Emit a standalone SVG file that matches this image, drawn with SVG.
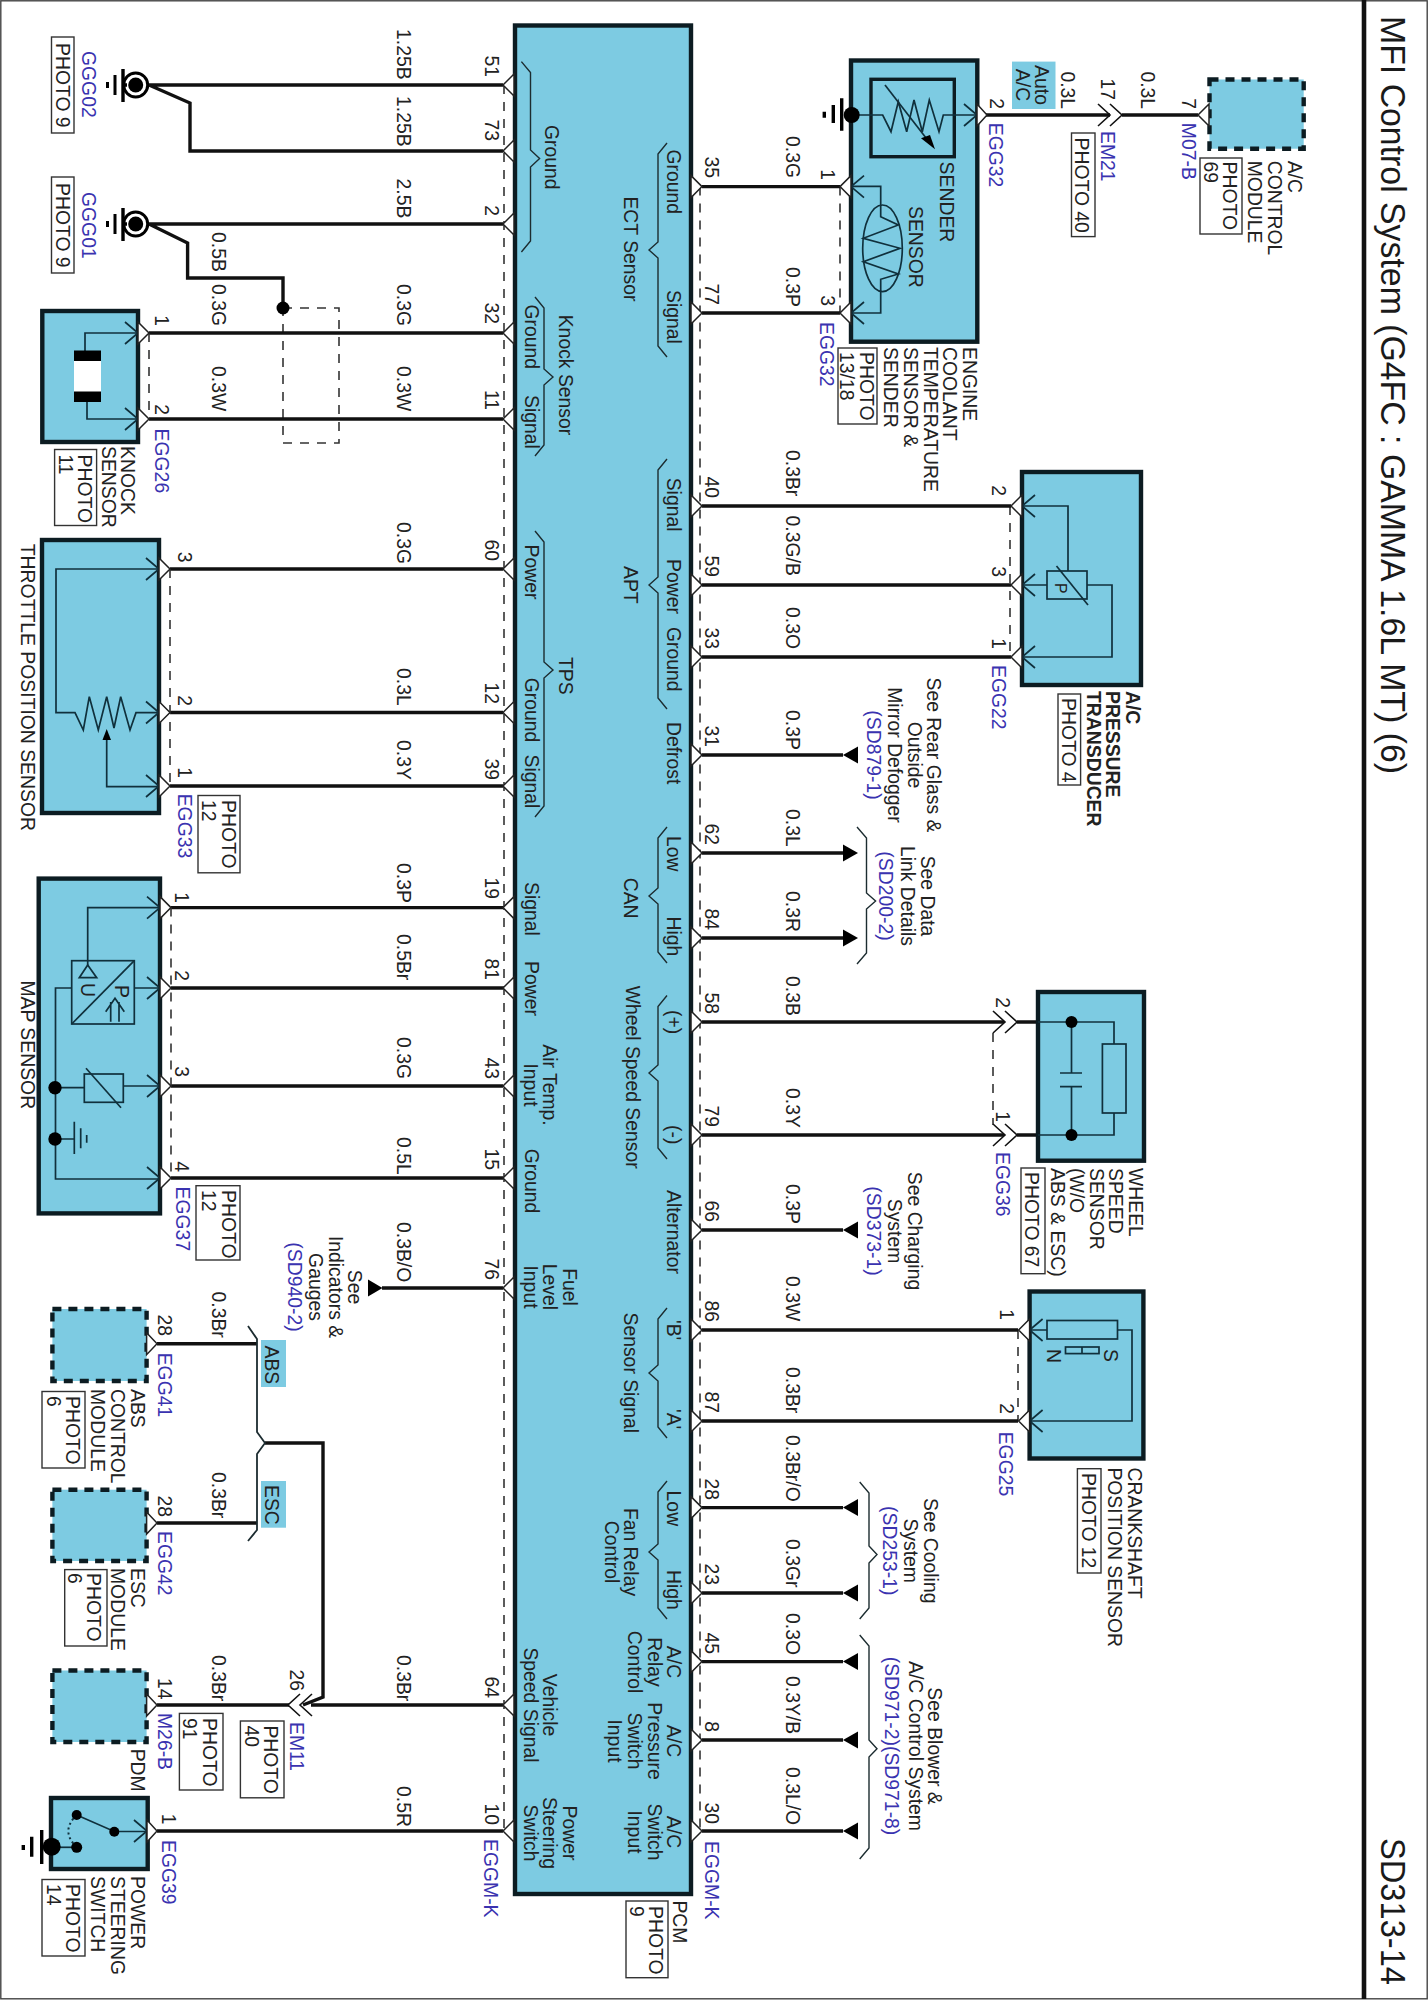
<svg xmlns="http://www.w3.org/2000/svg" width="1428" height="2000" viewBox="0 0 1428 2000">
<style>
text{font-family:"Liberation Sans",Arial,sans-serif;font-size:20.6px;fill:#222}
.b{fill:#3a33b0}
.m{text-anchor:middle}
.e{text-anchor:end}
.bold{font-weight:bold}
.title{font-size:35px;fill:#1a1a1a}
.w{fill:none;stroke:#111;stroke-width:3.4;stroke-linejoin:miter}
.d{fill:none;stroke:#333;stroke-width:1.6;stroke-dasharray:9 8}
.box{fill:#7dcbe2;stroke:#0c1c22;stroke-width:4.4}
.dbox{fill:#7dcbe2;stroke:#0c1c22;stroke-width:4.4;stroke-dasharray:9 7}
.lab{fill:#7dcbe2;stroke:none}
.ph{fill:#fff;stroke:#333;stroke-width:1.4}
.i{fill:none;stroke:#10303c;stroke-width:1.7}
.br{fill:none;stroke:#1c2c30;stroke-width:1.4}
.k{fill:#000;stroke:none}
.g{fill:none;stroke:#000;stroke-width:3.4}
.pin{fill:#fff;stroke:#222;stroke-width:1.5;stroke-linejoin:miter}
.c{fill:none;stroke:#111;stroke-width:1.6}
</style>
<defs>
<path id="ptL" class="pin" d="M11,-11L0,0L11,11Z"/>
<path id="ptR" class="pin" d="M-11,-11L0,0L-11,11Z"/>
<path id="arL" class="i" d="M13,-11L0,0L13,11"/>
<path id="arR" class="i" d="M-13,-11L0,0L-13,11"/>
<path id="conL" class="c" d="M12,-11L0,0L12,11M24,-11L12,0L24,11"/>
<path id="conR" class="c" d="M-12,-11L0,0L-12,11M-24,-11L-12,0L-24,11"/>
<path id="triL" class="k" d="M0,0L15,-8.5L15,8.5Z"/>
<path id="triR" class="k" d="M0,0L-15,-8.5L-15,8.5Z"/>
</defs>
<rect x="0.8" y="0.8" width="1426.4" height="1998" fill="#fff" stroke="#444" stroke-width="1.4"/>
<line x1="1364" y1="0" x2="1364" y2="1999" stroke="#111" stroke-width="4.6"/>
<text class="title" transform="matrix(0 1 -1 0 1381 16)" textLength="758" lengthAdjust="spacingAndGlyphs">MFI Control System (G4FC : GAMMA 1.6L MT) (6)</text>
<text class="title" transform="matrix(0 1 -1 0 1381 1838)" textLength="147" lengthAdjust="spacingAndGlyphs">SD313-14</text>

<g id="connectors">
<path class="w" d="M149,85H503M149,85L190,103V151H503"/>
<path class="w" d="M149,224H503M149,224L187.6,243V278H283V308"/>
<path class="d" d="M283,308H339V443H283Z"/>
<path class="w" d="M149,333H503M149,419H503M170,569H503M170,712.5H503M170,786H503M171,907.6H503M171,988H503M171,1086H503M171,1178H503M382,1288H503M311,1705H503M157,1831H503"/>
<path class="d" d="M504,85V1831M700,186.6V1831M149,333V419M170,569V786M171,907.6V1178M840,186.6V313M1010,506V657M993,1033V1125M1018,1330V1421"/>
<path class="w" d="M702,186.6H840M702,313H840M702,506H1011M702,585H1011M702,657H1011M702,755H843M702,853H843M702,938H843M702,1022H1004M1017,1022H1038M702,1135H1004M1017,1135H1038M702,1230H843M702,1330H1018M702,1421H1018M702,1507.6H843M702,1593H843M702,1661.6H843M702,1740H843M702,1831H843"/>
<path class="w" d="M986,115H1110M1122,115H1198"/>
<path class="w" d="M157,1343.7H257M157,1523H257M157,1705H289M265,1443H323V1697L303,1705"/>
<path class="br" d="M248,1326L257,1339V1432L265,1443L257,1454V1530L248,1541" style="stroke-width:1.8"/>
<use href="#triL" x="843" y="755"/>
<use href="#triR" x="858" y="853"/>
<use href="#triR" x="858" y="938"/>
<use href="#triL" x="843" y="1230"/>
<use href="#triL" x="843" y="1507.6"/>
<use href="#triL" x="843" y="1593"/>
<use href="#triL" x="843" y="1661.6"/>
<use href="#triL" x="843" y="1740"/>
<use href="#triL" x="843" y="1831"/>
<path class="k" d="M382.5,1288L368,1279.5V1296.5Z"/>
<circle class="k" cx="283" cy="308" r="6.5"/>
<use href="#conR" x="1122" y="115"/>
<use href="#conR" x="1017" y="1022"/>
<use href="#conR" x="1017" y="1135"/>
<use href="#conL" x="288" y="1705"/>
<path class="br" d="M857,827L866.5,838V893L875.6,901L866.5,909V953L857,964"/>
<path class="br" d="M859.7,1482L869,1493V1546L877,1554.5L869,1563V1608L859.7,1619"/>
<path class="br" d="M859.7,1635L869,1646V1740L877,1748.7L869,1757V1848L859.7,1859"/>
<g id="wire-labels">
<text transform="matrix(0 .94 -1 0 397 29)">1.25B</text>
<text transform="matrix(0 .94 -1 0 397 96)">1.25B</text>
<text transform="matrix(0 .94 -1 0 397 178.6)">2.5B</text>
<text transform="matrix(0 .94 -1 0 397 284)">0.3G</text>
<text transform="matrix(0 .94 -1 0 397 366)">0.3W</text>
<text transform="matrix(0 .94 -1 0 397 522)">0.3G</text>
<text transform="matrix(0 .94 -1 0 397 668)">0.3L</text>
<text transform="matrix(0 .94 -1 0 397 740)">0.3Y</text>
<text transform="matrix(0 .94 -1 0 397 863)">0.3P</text>
<text transform="matrix(0 .94 -1 0 397 934)">0.5Br</text>
<text transform="matrix(0 .94 -1 0 397 1037)">0.3G</text>
<text transform="matrix(0 .94 -1 0 397 1137)">0.5L</text>
<text transform="matrix(0 .94 -1 0 397 1222)">0.3B/O</text>
<text transform="matrix(0 .94 -1 0 397 1655)">0.3Br</text>
<text transform="matrix(0 .94 -1 0 397 1786)">0.5R</text>
<text transform="matrix(0 .94 -1 0 212 232)">0.5B</text>
<text transform="matrix(0 .94 -1 0 212 284)">0.3G</text>
<text transform="matrix(0 .94 -1 0 212 366)">0.3W</text>
<text transform="matrix(0 .94 -1 0 212 1291.5)">0.3Br</text>
<text transform="matrix(0 .94 -1 0 212 1472)">0.3Br</text>
<text transform="matrix(0 .94 -1 0 212 1655)">0.3Br</text>
<text transform="matrix(0 .94 -1 0 785.5 136)">0.3G</text>
<text transform="matrix(0 .94 -1 0 785.5 267)">0.3P</text>
<text transform="matrix(0 .94 -1 0 785.5 450)">0.3Br</text>
<text transform="matrix(0 .94 -1 0 785.5 515.6)">0.3G/B</text>
<text transform="matrix(0 .94 -1 0 785.5 607)">0.3O</text>
<text transform="matrix(0 .94 -1 0 785.5 710)">0.3P</text>
<text transform="matrix(0 .94 -1 0 785.5 809)">0.3L</text>
<text transform="matrix(0 .94 -1 0 785.5 891)">0.3R</text>
<text transform="matrix(0 .94 -1 0 785.5 976)">0.3B</text>
<text transform="matrix(0 .94 -1 0 785.5 1088)">0.3Y</text>
<text transform="matrix(0 .94 -1 0 785.5 1184)">0.3P</text>
<text transform="matrix(0 .94 -1 0 785.5 1276)">0.3W</text>
<text transform="matrix(0 .94 -1 0 785.5 1367)">0.3Br</text>
<text transform="matrix(0 .94 -1 0 785.5 1435)">0.3Br/O</text>
<text transform="matrix(0 .94 -1 0 785.5 1539)">0.3Gr</text>
<text transform="matrix(0 .94 -1 0 785.5 1613)">0.3O</text>
<text transform="matrix(0 .94 -1 0 785.5 1676)">0.3Y/B</text>
<text transform="matrix(0 .94 -1 0 785.5 1767)">0.3L/O</text>
<text transform="matrix(0 .94 -1 0 1061 71.4)">0.3L</text>
<text transform="matrix(0 .94 -1 0 1141 71.4)">0.3L</text>
<text class="e" transform="matrix(0 .94 -1 0 1101 100)">17</text>
<text class="b" transform="matrix(0 .94 -1 0 1101 131)">EM21</text>
<text class="e" transform="matrix(0 .94 -1 0 290 1691)">26</text>
<text class="b" transform="matrix(0 .94 -1 0 290 1722)">EM11</text>
</g>
<g id="cross-references">
<text class="m" transform="matrix(0 .94 -1 0 927 755)">See Rear Glass &amp;<tspan x="0" dy="19.5">Outside</tspan><tspan x="0" dy="19.5">Mirror Defogger</tspan><tspan class="b" x="0" dy="21">(SD879-1)</tspan></text>
<text class="m" transform="matrix(0 .94 -1 0 921 896)">See Data<tspan x="0" dy="20">Link Details</tspan><tspan class="b" x="0" dy="22">(SD200-2)</tspan></text>
<text class="m" transform="matrix(0 .94 -1 0 907.5 1231)">See Charging<tspan x="0" dy="19.5">System</tspan><tspan class="b" x="0" dy="21">(SD373-1)</tspan></text>
<text class="m" transform="matrix(0 .94 -1 0 923.5 1550.7)">See Cooling<tspan x="0" dy="20">System</tspan><tspan class="b" x="0" dy="20.5">(SD253-1)</tspan></text>
<text class="m" transform="matrix(0 .94 -1 0 928 1746)">See Blower &amp;<tspan x="0" dy="19">A/C Control System</tspan><tspan class="b" x="0" dy="24">(SD971-2)(SD971-8)</tspan></text>
<text class="m" transform="matrix(0 .94 -1 0 348 1287)">See<tspan x="0" dy="19.5">Indicators &amp;</tspan><tspan x="0" dy="20">Gauges</tspan><tspan class="b" x="0" dy="21">(SD940-2)</tspan></text>
</g>
</g>

<g id="pcm">
<rect class="box" x="515" y="25.5" width="176" height="1868.5"/>
<path class="br" d="M521.4,61.6L530.5,72.6V150L539.6,158.5L530.5,167V241L521.4,252"/>
<path class="br" d="M667,143L658,154V242L649,250L658,258V346L667,357"/>
<path class="br" d="M535,297L544,308V369L553,377L544,385V445L535,456"/>
<path class="br" d="M667,459L658,470V577L649,585L658,593V698L667,709"/>
<path class="br" d="M535,531L544,542V662L553,670L544,678V806L535,817"/>
<path class="br" d="M667,827L658,838V888L649,896L658,904V952L667,963"/>
<path class="br" d="M667,995.5L658,1006.5V1065L649,1073L658,1081V1148L667,1159"/>
<path class="br" d="M667,1308L658,1319V1365L649,1373L658,1381V1427L667,1438"/>
<path class="br" d="M667,1481L658,1492V1544L649,1552L658,1560V1608L667,1619"/>
<text transform="matrix(0 .94 -1 0 545 125)">Ground</text>
<text transform="matrix(0 .94 -1 0 667 149.5)">Ground</text>
<text transform="matrix(0 .94 -1 0 667 290)">Signal</text>
<text transform="matrix(0 .94 -1 0 624 196.4)">ECT Sensor</text>
<text transform="matrix(0 .94 -1 0 524.6 304.5)">Ground</text>
<text transform="matrix(0 .94 -1 0 524.6 395)">Signal</text>
<text transform="matrix(0 .94 -1 0 559 314.7)">Knock Sensor</text>
<text transform="matrix(0 .94 -1 0 667 477.7)">Signal</text>
<text transform="matrix(0 .94 -1 0 667 559)">Power</text>
<text transform="matrix(0 .94 -1 0 667 627)">Ground</text>
<text transform="matrix(0 .94 -1 0 624 566)">APT</text>
<text transform="matrix(0 .94 -1 0 524.6 544.6)">Power</text>
<text transform="matrix(0 .94 -1 0 524.6 677.7)">Ground</text>
<text transform="matrix(0 .94 -1 0 524.6 754.5)">Signal</text>
<text transform="matrix(0 .94 -1 0 559 657)">TPS</text>
<text transform="matrix(0 .94 -1 0 667 722)">Defrost</text>
<text transform="matrix(0 .94 -1 0 667 836)">Low</text>
<text transform="matrix(0 .94 -1 0 667 916.5)">High</text>
<text transform="matrix(0 .94 -1 0 624 877.7)">CAN</text>
<text transform="matrix(0 .94 -1 0 667 1010)">(+)</text>
<text transform="matrix(0 .94 -1 0 667 1125)">(-)</text>
<text transform="matrix(0 .94 -1 0 626 985.7)">Wheel Speed Sensor</text>
<text transform="matrix(0 .94 -1 0 667 1190)">Alternator</text>
<text transform="matrix(0 .94 -1 0 667 1320)">'B'</text>
<text transform="matrix(0 .94 -1 0 667 1409)">'A'</text>
<text transform="matrix(0 .94 -1 0 624 1312.5)">Sensor Signal</text>
<text transform="matrix(0 .94 -1 0 667 1490.6)">Low</text>
<text transform="matrix(0 .94 -1 0 667 1570)">High</text>
<text class="m" transform="matrix(0 .94 -1 0 624 1552)">Fan Relay<tspan x="0" dy="19.5">Control</tspan></text>
<text class="m" transform="matrix(0 .94 -1 0 667 1662)">A/C<tspan x="0" dy="19.5">Relay</tspan><tspan x="0" dy="20">Control</tspan></text>
<text class="m" transform="matrix(0 .94 -1 0 667 1741)">A/C<tspan x="0" dy="19.5">Pressure</tspan><tspan x="0" dy="20">Switch</tspan><tspan x="0" dy="19.5">Input</tspan></text>
<text class="m" transform="matrix(0 .94 -1 0 667 1832)">A/C<tspan x="0" dy="19.5">Switch</tspan><tspan x="0" dy="20">Input</tspan></text>
<text transform="matrix(0 .94 -1 0 524.6 882)">Signal</text>
<text transform="matrix(0 .94 -1 0 524.6 961)">Power</text>
<text class="m" transform="matrix(0 .94 -1 0 543 1085)">Air Temp.<tspan x="0" dy="19.3">Input</tspan></text>
<text transform="matrix(0 .94 -1 0 524.6 1148.7)">Ground</text>
<text class="m" transform="matrix(0 .94 -1 0 563 1287)">Fuel<tspan x="0" dy="20">Level</tspan><tspan x="0" dy="19.3">Input</tspan></text>
<text class="m" transform="matrix(0 .94 -1 0 543 1705)">Vehicle<tspan x="0" dy="19.3">Speed Signal</tspan></text>
<text class="m" transform="matrix(0 .94 -1 0 563 1833)">Power<tspan x="0" dy="20">Steering</tspan><tspan x="0" dy="19.3">Switch</tspan></text>
<use href="#ptL" x="503" y="85"/><use href="#ptL" x="503" y="151"/><use href="#ptL" x="503" y="224"/><use href="#ptL" x="503" y="333"/><use href="#ptL" x="503" y="419"/><use href="#ptL" x="503" y="569"/><use href="#ptL" x="503" y="712.5"/><use href="#ptL" x="503" y="786"/><use href="#ptL" x="503" y="907.6"/><use href="#ptL" x="503" y="988"/><use href="#ptL" x="503" y="1086"/><use href="#ptL" x="503" y="1178"/><use href="#ptL" x="503" y="1288"/><use href="#ptL" x="503" y="1705"/><use href="#ptL" x="503" y="1831"/>
<use href="#ptR" x="702" y="186.6"/><use href="#ptR" x="702" y="313"/><use href="#ptR" x="702" y="506"/><use href="#ptR" x="702" y="585"/><use href="#ptR" x="702" y="657"/><use href="#ptR" x="702" y="755"/><use href="#ptR" x="702" y="853"/><use href="#ptR" x="702" y="938"/><use href="#ptR" x="702" y="1022"/><use href="#ptR" x="702" y="1135"/><use href="#ptR" x="702" y="1230"/><use href="#ptR" x="702" y="1330"/><use href="#ptR" x="702" y="1421"/><use href="#ptR" x="702" y="1507.6"/><use href="#ptR" x="702" y="1593"/><use href="#ptR" x="702" y="1661.6"/><use href="#ptR" x="702" y="1740"/><use href="#ptR" x="702" y="1831"/>
<text class="e" transform="matrix(0 .94 -1 0 485 77)">51</text><text class="e" transform="matrix(0 .94 -1 0 485 141)">73</text><text class="e" transform="matrix(0 .94 -1 0 485 216)">2</text><text class="e" transform="matrix(0 .94 -1 0 485 324)">32</text><text class="e" transform="matrix(0 .94 -1 0 485 410)">11</text><text class="e" transform="matrix(0 .94 -1 0 485 561)">60</text><text class="e" transform="matrix(0 .94 -1 0 485 704)">12</text><text class="e" transform="matrix(0 .94 -1 0 485 780)">39</text><text class="e" transform="matrix(0 .94 -1 0 485 899)">19</text><text class="e" transform="matrix(0 .94 -1 0 485 980)">81</text><text class="e" transform="matrix(0 .94 -1 0 485 1079)">43</text><text class="e" transform="matrix(0 .94 -1 0 485 1170)">15</text><text class="e" transform="matrix(0 .94 -1 0 485 1280)">76</text><text class="e" transform="matrix(0 .94 -1 0 485 1698)">64</text><text class="e" transform="matrix(0 .94 -1 0 485 1825)">10</text>
<text class="e" transform="matrix(0 .94 -1 0 705 178)">35</text><text class="e" transform="matrix(0 .94 -1 0 705 305)">77</text><text class="e" transform="matrix(0 .94 -1 0 705 498)">40</text><text class="e" transform="matrix(0 .94 -1 0 705 577)">59</text><text class="e" transform="matrix(0 .94 -1 0 705 649)">33</text><text class="e" transform="matrix(0 .94 -1 0 705 747)">31</text><text class="e" transform="matrix(0 .94 -1 0 705 845)">62</text><text class="e" transform="matrix(0 .94 -1 0 705 930)">84</text><text class="e" transform="matrix(0 .94 -1 0 705 1014)">58</text><text class="e" transform="matrix(0 .94 -1 0 705 1127)">79</text><text class="e" transform="matrix(0 .94 -1 0 705 1222)">66</text><text class="e" transform="matrix(0 .94 -1 0 705 1322)">86</text><text class="e" transform="matrix(0 .94 -1 0 705 1413)">87</text><text class="e" transform="matrix(0 .94 -1 0 705 1500)">28</text><text class="e" transform="matrix(0 .94 -1 0 705 1585)">23</text><text class="e" transform="matrix(0 .94 -1 0 705 1654)">45</text><text class="e" transform="matrix(0 .94 -1 0 705 1732)">8</text><text class="e" transform="matrix(0 .94 -1 0 705 1824)">30</text>
<text class="b" transform="matrix(0 .94 -1 0 484 1839)">EGGM-K</text>
<text class="b" transform="matrix(0 .94 -1 0 705 1841)">EGGM-K</text>
<text transform="matrix(0 .94 -1 0 673 1900.4)">PCM</text>
<rect class="ph" x="626" y="1901" width="42" height="76.7"/>
<text transform="matrix(0 .94 -1 0 649 1906)">PHOTO<tspan x="0" dy="19.5">9</tspan></text>
</g>

<g id="ggg02">
<circle cx="135.7" cy="85" r="12" fill="#fff" stroke="#000" stroke-width="3"/>
<circle class="k" cx="135.7" cy="85" r="7.5"/>
<path class="g" d="M123,85H127M123,69V102"/>
<path class="g" d="M115,75V95M107.5,82V88" style="stroke-width:3"/>
<text class="b" transform="matrix(0 .94 -1 0 82 51)">GGG02</text>
<rect class="ph" x="51.5" y="37" width="22.5" height="96"/>
<text transform="matrix(0 .94 -1 0 56 43)">PHOTO 9</text>
</g>
<g id="ggg01">
<circle cx="135.7" cy="224" r="12" fill="#fff" stroke="#000" stroke-width="3"/>
<circle class="k" cx="135.7" cy="224" r="7.5"/>
<path class="g" d="M123,224H127M123,208V241"/>
<path class="g" d="M115,214V234M107.5,221V227" style="stroke-width:3"/>
<text class="b" transform="matrix(0 .94 -1 0 82 192)">GGG01</text>
<rect class="ph" x="51.5" y="177" width="22.5" height="96"/>
<text transform="matrix(0 .94 -1 0 56 183)">PHOTO 9</text>
</g>

<g id="knock-sensor">
<rect class="box" x="42.3" y="311" width="95.7" height="131"/>
<path class="i" d="M138,333H85V352M87,400V419H138"/>
<rect x="74" y="360" width="27" height="32" fill="#fff"/>
<rect class="k" x="74" y="350.5" width="27" height="10.5"/><rect class="k" x="74" y="391.5" width="27" height="10.5"/>
<use href="#arR" x="138" y="333"/><use href="#arR" x="138" y="419"/>
<path class="pin" d="M138,322L149,333L138,344Z"/><path class="pin" d="M138,408L149,419L138,430Z"/>
<text class="e" transform="matrix(0 .94 -1 0 155 326)">1</text><text class="e" transform="matrix(0 .94 -1 0 155 415)">2</text>
<text class="b" transform="matrix(0 .94 -1 0 155 428.6)">EGG26</text>
<text transform="matrix(0 .94 -1 0 120.7 446)">KNOCK<tspan x="0" dy="18.5">SENSOR</tspan></text>
<rect class="ph" x="54.6" y="449.5" width="42" height="76"/>
<text transform="matrix(0 .94 -1 0 78 454.5)">PHOTO<tspan x="0" dy="19">11</tspan></text>
</g>

<g id="throttle-position-sensor">
<rect class="box" x="42" y="540" width="117" height="273"/>
<path class="i" d="M159,569H56V712.7H75L83.3,730L89.3,696.7L98.3,730L106.7,696.7L114,728L120.7,696.7L130,730L136,712.7H159"/>
<path class="i" d="M106.7,736V786.7H159"/>
<path class="k" d="M106.7,729L102.5,740H111Z"/>
<use href="#arR" x="159" y="569"/><use href="#arR" x="159" y="712.5"/><use href="#arR" x="159" y="786"/>
<path class="pin" d="M159,558L170,569L159,580Z"/><path class="pin" d="M159,701.5L170,712.5L159,723.5Z"/><path class="pin" d="M159,775L170,786L159,797Z"/>
<text class="e" transform="matrix(0 .94 -1 0 177.6 562.5)">3</text><text class="e" transform="matrix(0 .94 -1 0 177.6 706)">2</text><text class="e" transform="matrix(0 .94 -1 0 177.6 778)">1</text>
<text class="b" transform="matrix(0 .94 -1 0 177.6 793.7)">EGG33</text>
<rect class="ph" x="198" y="795.5" width="42" height="77.3"/>
<text transform="matrix(0 .94 -1 0 221.8 800)">PHOTO<tspan x="0" dy="20">12</tspan></text>
<text transform="matrix(0 .94 -1 0 20.5 543.8)">THROTTLE POSITION SENSOR</text>
</g>

<g id="map-sensor">
<rect class="box" x="38.7" y="878.6" width="121.3" height="334.8"/>
<path class="i" d="M160,907.6H87.7V965M134.3,988H160M71.7,988H55.5V1179H160M55,1087.7H84.3M123.3,1086H160M55,1139H74.3"/>
<rect class="i" x="71.7" y="960.7" width="62.6" height="63.3"/>
<path class="i" d="M134.3,960.7L71.7,1024"/>
<path class="i" d="M87.7,965L79.3,977.7H96.7Z"/>
<text transform="matrix(0 .94 -1 0 80.7 983)">U</text>
<text transform="matrix(0 .94 -1 0 115 985)">P</text>
<path class="i" d="M110.7,1002V1021.7M119,1002V1021.7M105.7,1011.7L115,998.3L124.3,1011.7"/>
<rect class="i" x="84.3" y="1074" width="39" height="28.3"/>
<path class="i" d="M86,1068.3L121,1107.7"/>
<path class="i" d="M74.3,1121.7V1154M80.7,1128.3V1148.3M86.7,1135V1142.7"/>
<circle class="k" cx="55" cy="1087.7" r="6.7"/><circle class="k" cx="55" cy="1139" r="6.7"/>
<use href="#arR" x="160" y="907.6"/><use href="#arR" x="160" y="988"/><use href="#arR" x="160" y="1086"/><use href="#arR" x="160" y="1178"/>
<path class="pin" d="M160,896.6L171,907.6L160,918.6Z"/><path class="pin" d="M160,977L171,988L160,999Z"/><path class="pin" d="M160,1075L171,1086L160,1097Z"/><path class="pin" d="M160,1167L171,1178L160,1189Z"/>
<text class="e" transform="matrix(0 .94 -1 0 175 903)">1</text><text class="e" transform="matrix(0 .94 -1 0 175 981)">2</text><text class="e" transform="matrix(0 .94 -1 0 175 1077)">3</text><text class="e" transform="matrix(0 .94 -1 0 175 1172)">4</text>
<text class="b" transform="matrix(0 .94 -1 0 176 1186.6)">EGG37</text>
<rect class="ph" x="196" y="1185.7" width="44" height="74.3"/>
<text transform="matrix(0 .94 -1 0 221.8 1190)">PHOTO<tspan x="0" dy="20">12</tspan></text>
<text transform="matrix(0 .94 -1 0 20.5 980.4)">MAP SENSOR</text>
</g>

<g id="abs-module">
<rect class="dbox" x="52.4" y="1309" width="94.2" height="72"/>
<path class="pin" d="M146.6,1332.7L157,1343.7L146.6,1354.7Z"/>
<text class="e" transform="matrix(0 .94 -1 0 158 1336)">28</text>
<text class="b" transform="matrix(0 .94 -1 0 158 1352.7)">EGG41</text>
<text transform="matrix(0 .94 -1 0 130.7 1389)">ABS<tspan x="0" dy="20">CONTROL</tspan><tspan x="0" dy="19.7">MODULE</tspan></text>
<rect class="ph" x="42" y="1391.5" width="43" height="76.5"/>
<text transform="matrix(0 .94 -1 0 66 1396)">PHOTO<tspan x="0" dy="19">6</tspan></text>
<rect class="lab" x="261" y="1340" width="25" height="47"/>
<text transform="matrix(0 .94 -1 0 265 1345.5)">ABS</text>
</g>
<g id="esc-module">
<rect class="dbox" x="52.4" y="1489.7" width="94.2" height="71.3"/>
<path class="pin" d="M146.6,1512L157,1523L146.6,1534Z"/>
<text class="e" transform="matrix(0 .94 -1 0 158 1517)">28</text>
<text class="b" transform="matrix(0 .94 -1 0 158 1531)">EGG42</text>
<text transform="matrix(0 .94 -1 0 130.7 1568)">ESC<tspan x="0" dy="20">MODULE</tspan></text>
<rect class="ph" x="64.7" y="1569.6" width="42.3" height="76.4"/>
<text transform="matrix(0 .94 -1 0 87.4 1573)">PHOTO<tspan x="0" dy="19">6</tspan></text>
<rect class="lab" x="261" y="1481" width="25" height="46.7"/>
<text transform="matrix(0 .94 -1 0 265 1485)">ESC</text>
</g>
<g id="pdm">
<rect class="dbox" x="52.4" y="1670.5" width="94.2" height="71.5"/>
<path class="pin" d="M146.6,1694L157,1705L146.6,1716Z"/>
<text class="e" transform="matrix(0 .94 -1 0 158 1699.5)">14</text>
<text class="b" transform="matrix(0 .94 -1 0 158 1713)">M26-B</text>
<text transform="matrix(0 .94 -1 0 130.7 1748.7)">PDM</text>
<rect class="ph" x="179.4" y="1713.4" width="43.6" height="76.6"/>
<text transform="matrix(0 .94 -1 0 202.6 1718)">PHOTO<tspan x="0" dy="19.6">91</tspan></text>
<rect class="ph" x="240.4" y="1721" width="43.6" height="76.8"/>
<text transform="matrix(0 .94 -1 0 264 1725.4)">PHOTO<tspan x="0" dy="19.5">40</tspan></text>
</g>
<g id="power-steering-switch">
<rect class="box" x="51" y="1798" width="96.7" height="71"/>
<path class="i" d="M147,1831.5H114.3L76.7,1815"/>
<path d="M76.7,1815Q60,1831 76.7,1847.3" fill="none" stroke="#10303c" stroke-width="2" stroke-dasharray="2 3"/>
<path class="i" d="M76.7,1847.3H52"/>
<circle class="k" cx="114.3" cy="1831.7" r="5"/><circle class="k" cx="76.7" cy="1815" r="5"/><circle class="k" cx="76.7" cy="1847.3" r="5.5"/><circle class="k" cx="51.7" cy="1846.7" r="9"/>
<path class="g" d="M41.7,1830V1864M31.7,1836.7V1856.7M23.3,1845V1850"/>
<use href="#arR" x="147" y="1831"/>
<path class="pin" d="M147,1820L157,1831L147,1842Z"/>
<text class="e" transform="matrix(0 .94 -1 0 161.6 1824.5)">1</text>
<text class="b" transform="matrix(0 .94 -1 0 161.6 1840)">EGG39</text>
<text transform="matrix(0 .94 -1 0 130.7 1876)">POWER<tspan x="0" dy="20">STEERING</tspan><tspan x="0" dy="19.7">SWITCH</tspan></text>
<rect class="ph" x="42" y="1879.5" width="43" height="76.5"/>
<text transform="matrix(0 .94 -1 0 66 1884)">PHOTO<tspan x="0" dy="19">14</tspan></text>
</g>

<g id="ect-sensor-sender">
<rect class="box" x="851" y="60.5" width="126.3" height="281.2"/>
<rect fill="none" stroke="#0c1c22" stroke-width="3.4" x="871" y="79.3" width="83.3" height="77.4"/>
<path class="i" d="M852,115H882.7L891,131.7L898.3,101.7L906.7,131.7L914,100L922.3,131.7L929.3,100L939,131.7L943.3,115H977"/>
<path class="i" d="M885,85L928,140.5"/>
<path class="k" d="M921,138.3L935,149.3L930,135Z"/>
<path class="i" d="M851,186.3H880.7V216.7L898.3,225L863.3,238.3L900,248.3L863.3,261.7L898.3,274L880.7,279.3V313H851"/>
<ellipse class="i" cx="882.5" cy="248.3" rx="19.8" ry="43.3"/>
<circle class="k" cx="851.7" cy="115" r="8"/>
<path class="g" d="M841.7,98.3V130.7M833.3,105V123M824.3,111.7V117.7"/>
<use href="#arL" x="851" y="186.6"/><use href="#arL" x="851" y="313"/><use href="#arR" x="977" y="115"/>
<path class="pin" d="M851,175.6L840,186.6L851,197.6Z"/><path class="pin" d="M851,302L840,313L851,324Z"/><path class="pin" d="M977,104L987,115L977,126Z"/>
<text transform="matrix(0 .94 -1 0 940 161.6)">SENDER</text>
<text transform="matrix(0 .94 -1 0 909 206)">SENSOR</text>
<text class="e" transform="matrix(0 .94 -1 0 821 180)">1</text><text class="e" transform="matrix(0 .94 -1 0 821 306)">3</text><text class="e" transform="matrix(0 .94 -1 0 989.5 109)">2</text>
<text class="b" transform="matrix(0 .94 -1 0 820 322)">EGG32</text>
<text class="b" transform="matrix(0 .94 -1 0 988.6 122.8)">EGG32</text>
<text transform="matrix(0 .94 -1 0 963 347)">ENGINE<tspan x="0" dy="20">COOLANT</tspan><tspan x="0" dy="19.5">TEMPERATURE</tspan><tspan x="0" dy="19.5">SENSOR &amp;</tspan><tspan x="0" dy="20">SENDER</tspan></text>
<rect class="ph" x="838" y="348" width="39" height="76"/>
<text transform="matrix(0 .94 -1 0 860 352)">PHOTO<tspan x="0" dy="20">13/18</tspan></text>
<rect class="lab" x="1012" y="61.6" width="43.5" height="47.4"/>
<text class="m" transform="matrix(0 .94 -1 0 1035 85)">Auto<tspan x="0" dy="19">A/C</tspan></text>
<rect class="ph" x="1071.5" y="133" width="23.5" height="103.6"/>
<text transform="matrix(0 .94 -1 0 1075 137.5)">PHOTO 40</text>
</g>
<g id="ac-control-module">
<rect class="dbox" x="1209.5" y="79.5" width="94.2" height="69.2"/>
<path class="pin" d="M1209,104L1198,115L1209,126Z"/>
<text class="e" transform="matrix(0 .94 -1 0 1182 109)">7</text>
<text class="b" transform="matrix(0 .94 -1 0 1182 122.8)">M07-B</text>
<text transform="matrix(0 .94 -1 0 1288 160.7)">A/C<tspan x="0" dy="20">CONTROL</tspan><tspan x="0" dy="20">MODULE</tspan></text>
<rect class="ph" x="1200" y="158" width="42" height="76"/>
<text transform="matrix(0 .94 -1 0 1223 161.6)">PHOTO<tspan x="0" dy="19.5">69</tspan></text>
</g>
<g id="ac-pressure-transducer">
<rect class="box" x="1022" y="472" width="119" height="213"/>
<path class="i" d="M1022,506H1068V571M1022,585H1047M1087,585H1112V657H1022"/>
<rect class="i" x="1047" y="571" width="40" height="28"/>
<path class="i" d="M1056.5,566L1088,605"/>
<text style="font-size:17px" transform="matrix(0 .94 -1 0 1055 583)">P</text>
<use href="#arL" x="1022" y="506"/><use href="#arL" x="1022" y="585"/><use href="#arL" x="1022" y="657"/>
<path class="pin" d="M1022,495L1011,506L1022,517Z"/><path class="pin" d="M1022,574L1011,585L1022,596Z"/><path class="pin" d="M1022,646L1011,657L1022,668Z"/>
<text class="e" transform="matrix(0 .94 -1 0 992 496)">2</text><text class="e" transform="matrix(0 .94 -1 0 992 577)">3</text><text class="e" transform="matrix(0 .94 -1 0 992 649)">1</text>
<text class="b" transform="matrix(0 .94 -1 0 992 665)">EGG22</text>
<text class="bold" transform="matrix(0 .94 -1 0 1126 691)">A/C<tspan x="0" dy="20.4">PRESSURE</tspan><tspan x="0" dy="19">TRANSDUCER</tspan></text>
<rect class="ph" x="1058" y="694" width="22.6" height="91"/>
<text transform="matrix(0 .94 -1 0 1061.5 698)">PHOTO 4</text>
</g>
<g id="wheel-speed-sensor">
<rect class="box" x="1038" y="992" width="106" height="168.7"/>
<path class="i" d="M1038,1022H1114V1044M1114,1113V1135H1038M1071.5,1022V1073M1060,1073H1082M1060,1086.6H1082M1071.5,1086.6V1135"/>
<rect class="i" x="1102.4" y="1044" width="23.6" height="69"/>
<circle class="k" cx="1071.5" cy="1022" r="6"/><circle class="k" cx="1071.5" cy="1135" r="6"/>
<text class="e" transform="matrix(0 .94 -1 0 996 1008)">2</text><text class="e" transform="matrix(0 .94 -1 0 996 1122)">1</text>
<text class="b" transform="matrix(0 .94 -1 0 996 1152)">EGG36</text>
<text transform="matrix(0 .94 -1 0 1129 1168)">WHEEL<tspan x="0" dy="20">SPEED</tspan><tspan x="0" dy="19.3">SENSOR</tspan><tspan x="0" dy="19.3">(W/O</tspan><tspan x="0" dy="19.5">ABS &amp; ESC)</tspan></text>
<rect class="ph" x="1021" y="1168" width="24" height="105.7"/>
<text transform="matrix(0 .94 -1 0 1025 1172)">PHOTO 67</text>
</g>
<g id="crankshaft-position-sensor">
<rect class="box" x="1029.6" y="1291.5" width="113.8" height="167"/>
<path class="i" d="M1029.6,1330H1047M1117.5,1330H1132V1421H1029.6"/>
<rect class="i" x="1047" y="1320.5" width="70.5" height="18.5"/>
<rect class="i" x="1065.5" y="1347" width="33.5" height="6.6"/>
<path class="i" d="M1082,1347V1353.6"/>
<use href="#arL" x="1029.6" y="1330"/><use href="#arL" x="1029.6" y="1421"/>
<path class="pin" d="M1029.6,1319L1018.6,1330L1029.6,1341Z"/><path class="pin" d="M1029.6,1410L1018.6,1421L1029.6,1432Z"/>
<text transform="matrix(0 .94 -1 0 1046.5 1349)">N</text>
<text transform="matrix(0 .94 -1 0 1103.6 1349)">S</text>
<text class="e" transform="matrix(0 .94 -1 0 999.5 1320)">1</text><text class="e" transform="matrix(0 .94 -1 0 999.5 1414)">2</text>
<text class="b" transform="matrix(0 .94 -1 0 998.6 1431.7)">EGG25</text>
<text transform="matrix(0 .94 -1 0 1127.5 1467.4)">CRANKSHAFT<tspan x="0" dy="19.5">POSITION SENSOR</tspan></text>
<rect class="ph" x="1077.4" y="1468.7" width="23.6" height="104.3"/>
<text transform="matrix(0 .94 -1 0 1082 1473)">PHOTO 12</text>
</g>
</svg>
